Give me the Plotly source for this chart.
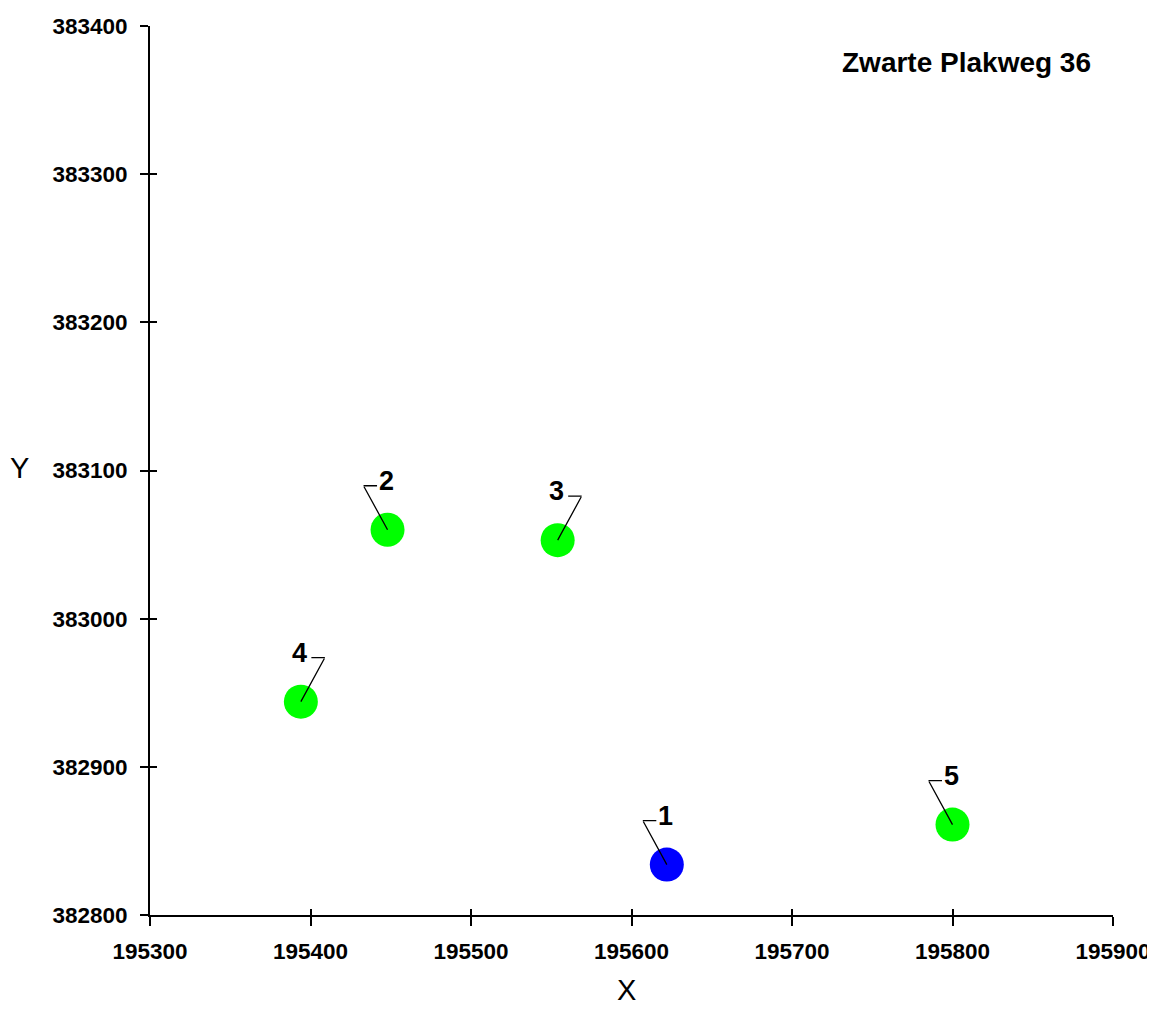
import plotly.graph_objects as go

# Data
labels = ["1", "2", "3", "4", "5"]
x_vals = [195622, 195448, 195554, 195394, 195800]
y_vals = [382834, 383060, 383053, 382944, 382861]
colors = ["#0000FF", "#00FF00", "#00FF00", "#00FF00", "#00FF00"]
leader_side = [-1, -1, 1, 1, -1]
x_ticks = [195300, 195400, 195500, 195600, 195700, 195800, 195900]
y_ticks = [382800, 382900, 383000, 383100, 383200, 383300, 383400]
x_tick_text = [str(v) for v in x_ticks]
y_tick_text = [str(v) for v in y_ticks]
title_text = "Zwarte Plakweg 36"

FONT = "Liberation Sans, Arial, sans-serif"

fig = go.Figure()
fig.add_trace(go.Scatter(
    x=x_vals, y=y_vals, mode="markers",
    marker=dict(size=34, color=colors, line=dict(width=0)),
    hoverinfo="x+y", showlegend=False,
))
# invisible trace for overlay axes (inside ticks)
fig.add_trace(go.Scatter(x=[x_ticks[0]], y=[y_ticks[0]], xaxis="x2", yaxis="y2",
                         mode="markers", marker=dict(opacity=0), showlegend=False,
                         hoverinfo="skip"))

annotations = []
for xv, yv, lab, s in zip(x_vals, y_vals, labels, leader_side):
    # diagonal leader: point -> elbow
    annotations.append(dict(x=xv, y=yv, xref="x", yref="y", text=" ",
                            font=dict(size=1), borderpad=0, showarrow=True,
                            arrowhead=0, arrowwidth=1.3, arrowcolor="black",
                            ax=s * 24, ay=-44, axref="pixel", ayref="pixel", standoff=0))
    # horizontal leader segment
    annotations.append(dict(x=xv, y=yv, xref="x", yref="y", text=" ",
                            font=dict(size=1), borderpad=0, showarrow=True,
                            arrowhead=0, arrowwidth=1.3, arrowcolor="black",
                            xshift=s * 24, yshift=44,
                            ax=-s * 14, ay=0, axref="pixel", ayref="pixel", standoff=0))
    # label
    annotations.append(dict(x=xv, y=yv, xref="x", yref="y", text=lab,
                            showarrow=False, xshift=-1, yshift=49,
                            font=dict(family=FONT, size=27, color="black", weight="bold")))

annotations.append(dict(x=0.979, y=0.9595, xref="paper", yref="paper", text=title_text,
                        showarrow=False, xanchor="right", yanchor="middle",
                        font=dict(family=FONT, size=28, color="black", weight="bold")))
annotations.append(dict(x=0.495, y=-0.084, xref="paper", yref="paper", text="X",
                        showarrow=False, xanchor="center", yanchor="middle",
                        font=dict(family=FONT, size=29, color="black")))
annotations.append(dict(x=-0.136, y=0.503, xref="paper", yref="paper", text="Y",
                        showarrow=False, xanchor="center", yanchor="middle",
                        font=dict(family=FONT, size=29, color="black")))

tickfont = dict(family=FONT, size=22.5, color="black", weight="bold")
fig.update_layout(
    width=1147, height=1001,
    margin=dict(l=142, r=42, t=18, b=94),
    paper_bgcolor="white", plot_bgcolor="white",
    xaxis=dict(range=[195300, 195900], tickvals=x_ticks, ticktext=x_tick_text,
               ticks="outside", ticklen=9, automargin=False, ticklabelstandoff=6,
               tickwidth=2, tickcolor="black", showline=True, linewidth=2, linecolor="black",
               showgrid=False, zeroline=False, tickfont=tickfont),
    yaxis=dict(range=[382800, 383400], tickvals=y_ticks, ticktext=y_tick_text,
               ticks="outside", ticklen=8, automargin=False, ticklabelstandoff=8,
               tickwidth=2, tickcolor="black", showline=True, linewidth=2, linecolor="black",
               showgrid=False, zeroline=False, tickfont=tickfont),
    xaxis2=dict(range=[195300, 195900], tickvals=x_ticks, ticks="inside", ticklen=6,
                tickwidth=2, tickcolor="black", showticklabels=False, overlaying="x",
                side="bottom", showgrid=False, zeroline=False, showline=False,
                automargin=False),
    yaxis2=dict(range=[382800, 383400], tickvals=y_ticks, ticks="inside", ticklen=7,
                tickwidth=2, tickcolor="black", showticklabels=False, overlaying="y",
                side="left", showgrid=False, zeroline=False, showline=False,
                automargin=False),
    annotations=annotations,
)

fig.write_html("out.html")
